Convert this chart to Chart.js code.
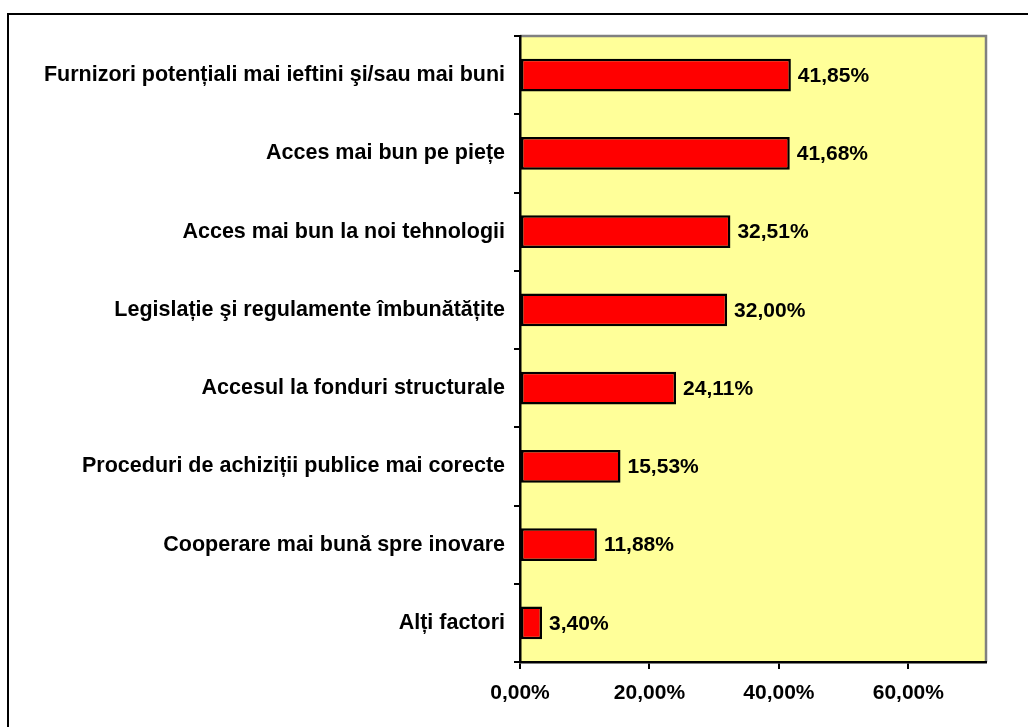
<!DOCTYPE html>
<html>
<head>
<meta charset="utf-8">
<script src="https://cdn.jsdelivr.net/npm/chart.js@4/dist/chart.umd.min.js"></script>
<style>
  html, body { margin: 0; padding: 0; background: #fff; }
  #wrap { position: relative; width: 1028px; height: 727px; }
</style>
</head>
<body>
<div id="wrap"><canvas id="grafic"></canvas></div>
<script>
// ── Date ──────────────────────────────────────────────────────
const categorii = [
    'Furnizori potențiali mai ieftini şi/sau mai buni',
    'Acces mai bun pe piețe',
    'Acces mai bun la noi tehnologii',
    'Legislație şi regulamente îmbunătățite',
    'Accesul la fonduri structurale',
    'Proceduri de achiziții publice mai corecte',
    'Cooperare mai bună spre inovare',
    'Alți factori'
];
const valori = [41.85, 41.68, 32.51, 32.00, 24.11, 15.53, 11.88, 3.40];
const eticheteX = [0, 20, 40, 60];
const axaMax = 72;

const FAMILIE = '"Liberation Sans", Arial, sans-serif';
const FONT = { family: FAMILIE, size: 21, weight: 'bold' };
const FONT_CAT = { family: FAMILIE, size: 21.5, weight: 'bold' };

function procent(v) { return v.toFixed(2).replace('.', ',') + '%'; }

// ── Fundal, chenar și etichete de valoare ────────────────────
const pluginDesen = {
    id: 'desen',
    beforeDraw: function (chart) {
        const c = chart.ctx, a = chart.chartArea;
        c.save();
        c.fillStyle = '#FFFF99';
        c.fillRect(a.left, a.top, a.right - a.left, a.bottom - a.top);
        // chenarul exterior (doar stânga și sus sunt vizibile)
        c.strokeStyle = '#000';
        c.lineWidth = 2;
        c.beginPath();
        c.moveTo(8, 727); c.lineTo(8, 14); c.lineTo(1028, 14);
        c.stroke();
        // marginea gri a zonei de desen
        c.strokeStyle = '#808080';
        c.lineWidth = 2.5;
        c.beginPath();
        c.moveTo(a.left, a.top); c.lineTo(a.right, a.top); c.lineTo(a.right, a.bottom);
        c.stroke();
        c.restore();
    },
    afterDatasetsDraw: function (chart) {
        const c = chart.ctx;
        const meta = chart.getDatasetMeta(0);
        c.save();
        c.font = FONT.weight + ' ' + FONT.size + 'px ' + FONT.family;
        c.fillStyle = '#000';
        c.textAlign = 'left';
        c.textBaseline = 'middle';
        meta.data.forEach(function (bar, i) {
            c.fillText(procent(valori[i]), bar.x + 7, bar.y + 1);
        });
        c.restore();
    }
};

new Chart(document.getElementById('grafic').getContext('2d'), {
    type: 'bar',
    data: {
        labels: categorii,
        datasets: [{
            data: valori,
            backgroundColor: '#FF0000',
            borderColor: '#000',
            borderWidth: 2.5,
            borderSkipped: false,
            barPercentage: 0.42,
            categoryPercentage: 1.0
        }]
    },
    options: {
        indexAxis: 'y',
        responsive: true, maintainAspectRatio: false,
        animation: false,
        layout: { padding: { top: 36, right: 42, bottom: 0, left: 0 } },
        plugins: { legend: { display: false }, tooltip: { enabled: false } },
        scales: {
            x: {
                min: 0, max: axaMax,
                afterBuildTicks: function (s) { s.ticks = eticheteX.map(function (v) { return { value: v }; }); },
                afterFit: function (s) { s.height = 65; },
                grid: { drawOnChartArea: false, color: '#000', lineWidth: 2, tickLength: 7 },
                border: { color: '#000', width: 2.5 },
                ticks: { color: '#000', font: FONT, padding: 12, maxRotation: 0,
                         callback: function (v) { return procent(v); } }
            },
            y: {
                afterFit: function (s) { s.width = 520; },
                grid: { drawOnChartArea: false, color: '#000', lineWidth: 2, tickLength: 6, offset: true },
                border: { color: '#000', width: 2.5 },
                ticks: { color: '#000', font: FONT_CAT, padding: 9 }
            }
        }
    },
    plugins: [pluginDesen]
});
</script>
</body>
</html>
